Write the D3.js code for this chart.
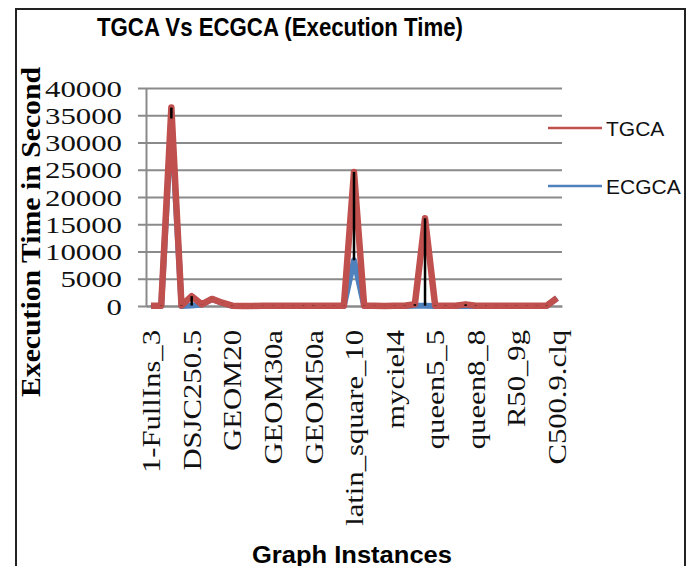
<!DOCTYPE html>
<html>
<head>
<meta charset="utf-8">
<script src="https://cdn.jsdelivr.net/npm/d3@7"></script>
<style>
  body { margin: 0; background: #fff; }
  svg { display: block; }
</style>
</head>
<body>
<div class="chart"></div>
<script>
// graph instances (only every 4th one is labelled on the axis)
var categories = [
    "1-FullIns_3", "1-Insertions_4", "2-Insertions_3", "DSJC125.1",
    "DSJC250.5", "DSJR500.1", "fpsol2.i.1", "GEOM10",
    "GEOM20", "GEOM20a", "GEOM20b", "GEOM30",
    "GEOM30a", "GEOM30b", "GEOM40", "GEOM40a",
    "GEOM50a", "GEOM60", "games120", "huck",
    "latin_square_10", "le450_15a", "miles250", "myciel3",
    "myciel4", "myciel5", "myciel6", "myciel7",
    "queen5_5", "queen6_6", "queen7_7", "queen8_12",
    "queen8_8", "queen9_9", "R50_1g", "R50_5g",
    "R50_9g", "R75_1g", "R75_5g", "R75_9g",
    "C500.9.clq"
];
var tgca = [
    30, 60, 36400, 80, 1800, 300, 1300, 600,
    50, 20, 20, 30, 40, 30, 40, 50,
    60, 40, 30, 40, 24600, 50, 30, 20,
    40, 60, 330, 16100, 60, 50, 40, 300,
    60, 40, 30, 30, 40, 30, 40, 60,
    1450
];
var ecgca = [
    5, 10, 34400, 10, 80, 280, 1280, 580,
    10, 5, 5, 5, 10, 5, 10, 10,
    10, 10, 5, 10, 8400, 10, 5, 5,
    10, 20, 40, 60, 10, 10, 10, 20,
    10, 10, 5, 5, 10, 5, 10, 10,
    1430
];
var yTicks = [0, 5000, 10000, 15000, 20000, 25000, 30000, 35000, 40000];
var seriesNames = ["TGCA", "ECGCA"];
var seriesColors = ["#C0504D", "#4F81BD"];

var width = 693, height = 566;
var svg = d3.select(".chart").append("svg")
    .attr("width", width)
    .attr("height", height);

svg.append("rect").attr("width", width).attr("height", height).attr("fill", "#fff");

// chart frame
svg.append("path")
    .attr("d", "M16,566V9H685V566")
    .attr("fill", "none")
    .attr("stroke", "#222")
    .attr("stroke-width", 2);

var x = d3.scaleBand().domain(categories).range([146, 562]);
var y = d3.scaleLinear().domain([0, 40000]).range([306, 88]);
var cx = function (d) { return x(d) + x.bandwidth() / 2; };

// gridlines
svg.append("g")
    .attr("transform", "translate(146,0)")
    .call(d3.axisLeft(y).tickValues(yTicks).tickSize(-416).tickFormat(""))
    .call(function (g) {
        g.select(".domain").remove();
        g.selectAll("line").attr("stroke", "#8a8a8a").attr("stroke-width", 2);
    });

// y axis
svg.append("g")
    .attr("transform", "translate(146,0)")
    .call(d3.axisLeft(y).tickValues(yTicks).tickSize(8).tickSizeOuter(0).tickPadding(16).tickFormat(d3.format("d")))
    .call(function (g) {
        g.select(".domain").attr("stroke", "#8a8a8a").attr("stroke-width", 2);
        g.selectAll("line").attr("stroke", "#8a8a8a").attr("stroke-width", 2);
        g.selectAll("text")
            .attr("font-family", "'Liberation Serif', 'Times New Roman', serif")
            .attr("font-size", 24)
            .attr("fill", "#111")
            .attr("dy", "0.34em")
            .attr("textLength", function (d) { return String(d).length * 15.4; })
            .attr("lengthAdjust", "spacingAndGlyphs");
    });

// x axis
svg.append("g")
    .attr("transform", "translate(0,306)")
    .call(d3.axisBottom(x)
        .tickValues(categories.filter(function (d, i) { return i % 4 === 0; }))
        .tickSize(0).tickSizeOuter(0))
    .call(function (g) {
        g.select(".domain").attr("stroke", "#8a8a8a").attr("stroke-width", 2);
        g.selectAll("text")
            .attr("font-family", "'Liberation Serif', 'Times New Roman', serif")
            .attr("font-size", 26)
            .attr("fill", "#111")
            .attr("text-anchor", "end")
            .attr("x", 0).attr("y", 0)
            .attr("dy", "0.35em")
            .attr("transform", "translate(0,24) rotate(-90) scale(1.18,1)");
    });

// lines: ECGCA below, TGCA on top
var line = function (values) {
    return d3.line()
        .x(function (d, i) { return cx(categories[i]); })
        .y(function (d) { return y(d); })(values);
};

svg.append("path")
    .attr("d", line(ecgca))
    .attr("fill", "none")
    .attr("stroke", seriesColors[1])
    .attr("stroke-width", 6)
    .attr("stroke-linejoin", "round");

svg.append("path")
    .attr("d", line(tgca))
    .attr("fill", "none")
    .attr("stroke", seriesColors[0])
    .attr("stroke-width", 6.5)
    .attr("stroke-linejoin", "round");

// high-low lines
svg.append("g").selectAll("line")
    .data(categories)
    .enter()
    .append("line")
    .attr("x1", function (d) { return cx(d); })
    .attr("x2", function (d) { return cx(d); })
    .attr("y1", function (d, i) { return y(Math.max(tgca[i], ecgca[i])); })
    .attr("y2", function (d, i) { return y(Math.min(tgca[i], ecgca[i])); })
    .attr("stroke", "#000")
    .attr("stroke-width", 2.5);

// legend
var legend = svg.append("g").selectAll("g")
    .data(seriesNames)
    .enter()
    .append("g")
    .attr("transform", function (d, i) { return "translate(548," + (128 + i * 58) + ")"; });

legend.append("line")
    .attr("x1", 0).attr("x2", 54)
    .attr("stroke", function (d, i) { return seriesColors[i]; })
    .attr("stroke-width", 2.5);

legend.append("text")
    .attr("x", 58)
    .attr("dy", "0.36em")
    .attr("font-family", "'Liberation Sans', Arial, sans-serif")
    .attr("font-size", 21)
    .attr("fill", "#111")
    .text(function (d) { return d; });

// titles
svg.append("text")
    .attr("x", 97).attr("y", 36)
    .attr("font-family", "'Liberation Sans', Arial, sans-serif")
    .attr("font-weight", "bold")
    .attr("font-size", 25.5)
    .attr("textLength", 366)
    .attr("lengthAdjust", "spacingAndGlyphs")
    .text("TGCA Vs ECGCA (Execution Time)");

svg.append("text")
    .attr("transform", "translate(40,232) rotate(-90)")
    .attr("text-anchor", "middle")
    .attr("font-family", "'Liberation Serif', 'Times New Roman', serif")
    .attr("font-weight", "bold")
    .attr("font-size", 27)
    .attr("textLength", 330)
    .attr("lengthAdjust", "spacingAndGlyphs")
    .text("Execution Time in Second");

svg.append("text")
    .attr("x", 252).attr("y", 563)
    .attr("font-family", "'Liberation Sans', Arial, sans-serif")
    .attr("font-weight", "bold")
    .attr("font-size", 23)
    .attr("textLength", 200)
    .attr("lengthAdjust", "spacingAndGlyphs")
    .text("Graph Instances");
</script>
</body>
</html>
